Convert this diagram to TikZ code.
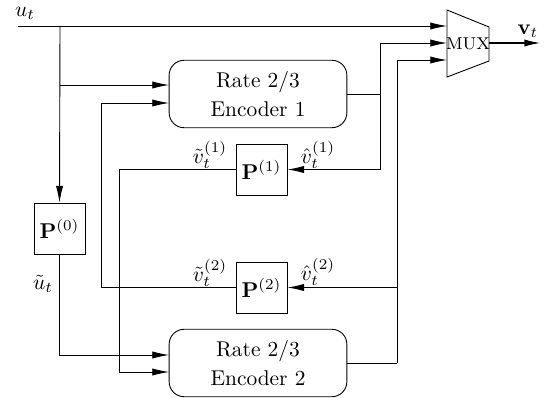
\documentclass[tikz,border=0pt]{standalone}
\usetikzlibrary{arrows.meta}
\begin{document}
\begin{tikzpicture}[x=0.467pt,y=-0.467pt,
  line width=0.42pt,
  arr/.style={-{Latex[length=7.8pt,width=3.4pt]}},
  pbox/.style={draw,minimum width=23.8pt,minimum height=23.8pt,inner sep=0pt},
  encbox/.style={draw,rounded corners=7pt,minimum width=83pt,minimum height=31.5pt,align=center,inner sep=0pt},
  lbl/.style={inner sep=0pt}]
\useasboundingbox (0,0) rectangle (550,398);
% nodes
\node[pbox] (P0) at (59.5,228.5) {$\mathbf{P}^{(0)}$};
\node[pbox] (P1) at (261.5,169.5) {$\mathbf{P}^{(1)}$};
\node[pbox] (P2) at (261.5,287.5) {$\mathbf{P}^{(2)}$};
\node[encbox] (enc1) at (258,94) {Rate $2/3$\\[1.5pt]Encoder 1};
\node[encbox] (enc2) at (258,363) {Rate $2/3$\\[1.5pt]Encoder 2};
\node[inner sep=0pt,font=\footnotesize] (mux) at (468,43.5) {MUX};
\draw (447,10) -- (489,27) -- (489,61) -- (447,77) -- cycle;
% coordinates
\coordinate (uin) at (18,26);
\coordinate (b0) at (60,26);
\coordinate (b1) at (60,85);
\coordinate (muxin1) at (447,26);
\coordinate (muxin2) at (447,43);
\coordinate (muxin3) at (447,60);
\coordinate (muxout) at (489,43);
\coordinate (vout) at (541,43);
\coordinate (e1a) at (169,85);
\coordinate (e1b) at (169,103);
\coordinate (e2a) at (169,355);
\coordinate (e2b) at (169,372);
\coordinate (j1) at (380,94);
\coordinate (j2) at (397,363);
% connectors
\draw[arr] (uin) -- (muxin1);
\draw[arr] (b0) -- (P0.north);
\draw[arr] (b1) -- (e1a);
\draw[arr] (P0.south) |- (e2a);
\draw[arr] (P2.west) -| (101,103) -- (e1b);
\draw[arr] (P1.west) -| (119,372) -- (e2b);
\draw (enc1.east) -- (j1);
\draw[arr] (j1) |- (muxin2);
\draw[arr] (j1) |- (P1.east);
\draw (enc2.east) -- (j2);
\draw[arr] (j2) |- (muxin3);
\draw[arr] (j2) |- (P2.east);
\draw[arr,line width=0.9pt] (muxout) -- (vout);
% labels
\node[lbl] (lu) at (25,13) {$u_t$};
\node[lbl] (lut) at (43,284) {$\tilde{u}_t$};
\node[lbl] (lv1t) at (210,155) {$\tilde{v}_t^{(1)}$};
\node[lbl] (lv1h) at (318,155) {$\hat{v}_t^{(1)}$};
\node[lbl] (lv2t) at (210,273) {$\tilde{v}_t^{(2)}$};
\node[lbl] (lv2h) at (318,272) {$\hat{v}_t^{(2)}$};
\node[lbl] (lvt) at (528,31) {$\mathbf{v}_t$};
\end{tikzpicture}
\end{document}
